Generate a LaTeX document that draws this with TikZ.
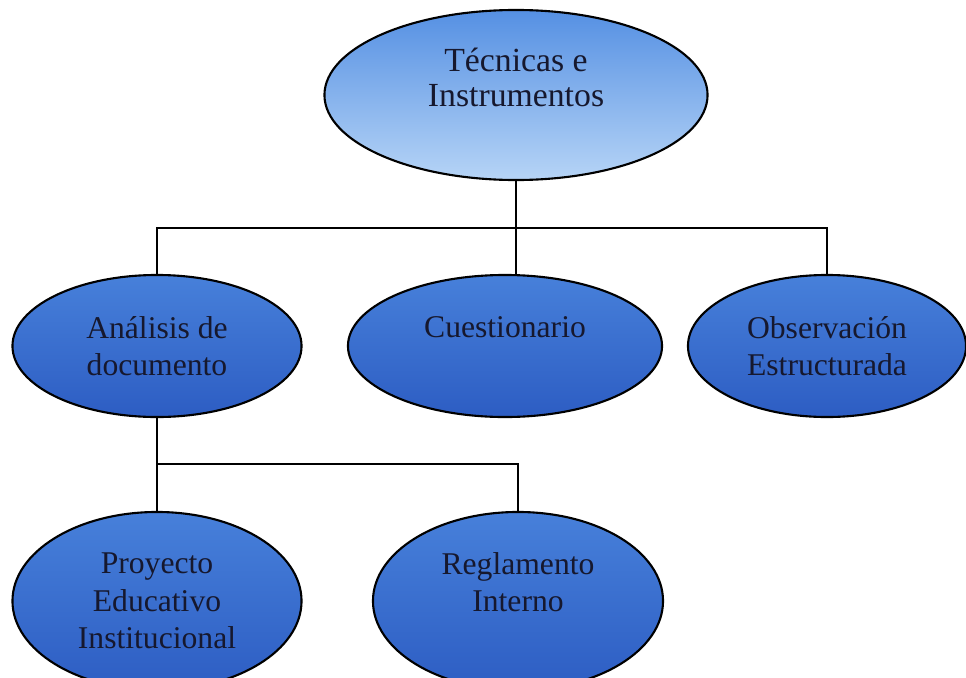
\documentclass[tikz,border=0pt]{standalone}
\usepackage{fontspec}
\setmainfont{Liberation Serif}
\definecolor{skyblue}{HTML}{5590E3}
\definecolor{paleblue}{HTML}{B6D4F6}
\definecolor{midblue}{HTML}{4780DA}
\definecolor{deepblue}{HTML}{2D5DC3}
\definecolor{inkblue}{HTML}{16182E}
\usetikzlibrary{shapes.geometric, positioning, calc}

\begin{document}
\begin{tikzpicture}[x=0.025cm, y=-0.025cm,
        rootnode/.style={ellipse, draw=black, line width=1.5pt,
                         top color=skyblue, bottom color=paleblue,
                         minimum width=9.575cm, minimum height=4.25cm,
                         inner sep=0pt, align=center, text=inkblue,
                         font=\fontsize{24}{25}\selectfont},
        leafnode/.style={ellipse, draw=black, line width=1.5pt,
                         top color=midblue, bottom color=deepblue,
                         minimum height=3.55cm,
                         inner sep=0pt, align=center, text=inkblue,
                         font=\fontsize{22.5}{26.5}\selectfont},
        link/.style={draw=black, line width=2.1pt}
      ]
        \useasboundingbox (0,0) rectangle (966,677);

        \node[rootnode] (tec) at (516,95) {Técnicas e\\Instrumentos\\\mbox{}};
        \node[leafnode, minimum width=7.225cm] (ana) at (157,346) {Análisis de\\documento};
        \node[leafnode, minimum width=7.85cm] (cue) at (505,346) {Cuestionario\\\mbox{}};
        \node[leafnode, minimum width=6.95cm] (obs) at (827,346) {Observación\\Estructurada};
        \node[leafnode, minimum width=7.225cm, minimum height=4.45cm] (pro) at (157,601) {Proyecto\\Educativo\\Institucional};
        \node[leafnode, minimum width=7.25cm, minimum height=4.45cm] (reg) at (518,601) {Reglamento\\Interno\\\mbox{}};

        \coordinate (topbus) at (0,228);
        \coordinate (lowbus) at (0,464);

        \draw[link] (tec.south) -- (tec.south |- cue.north);
        \draw[link] (ana.north) |- (obs.north |- topbus) -- (obs.north);
        \draw[link] (ana.south) -- (pro.north);
        \draw[link] (ana.south |- lowbus) -| (reg.north);
      \end{tikzpicture}
\end{document}
